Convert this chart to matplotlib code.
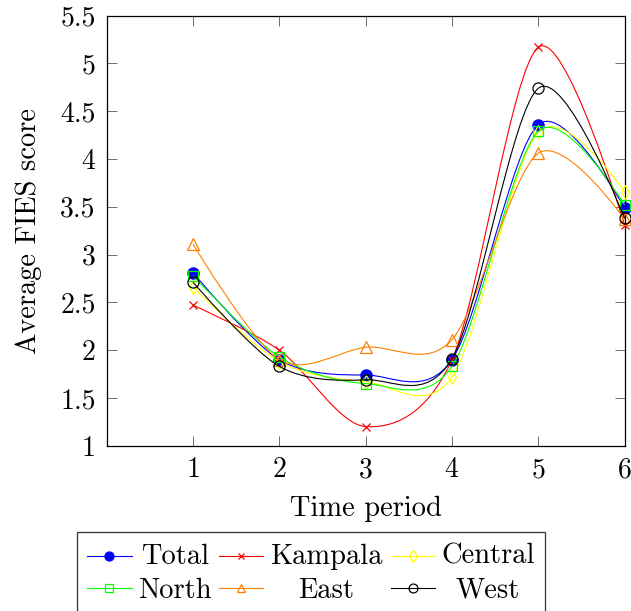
import numpy as np
import matplotlib
matplotlib.use('Agg')
import matplotlib.pyplot as plt
from matplotlib.path import Path
from matplotlib.patches import PathPatch, Rectangle
from matplotlib.lines import Line2D
from matplotlib.ticker import FormatStrFormatter

plt.rcParams['font.family'] = 'serif'
plt.rcParams['font.serif'] = ['cmr10']
plt.rcParams['mathtext.fontset'] = 'cm'
plt.rcParams['axes.formatter.use_mathtext'] = True

# data
periods = [1, 2, 3, 4, 5, 6]
total = [2.81, 1.90, 1.74, 1.90, 4.36, 3.49]
kampala = [2.47, 2.00, 1.20, 1.90, 5.17, 3.31]
central = [2.66, 1.88, 1.67, 1.72, 4.28, 3.66]
north = [2.78, 1.93, 1.65, 1.83, 4.29, 3.52]
east = [3.11, 1.90, 2.03, 2.11, 4.06, 3.37]
west = [2.71, 1.83, 1.69, 1.91, 4.74, 3.38]

series = [
    ('Total', total, 'blue', dict(marker='o', mfc='blue', mec='blue', ms=8)),
    ('Kampala', kampala, 'red', dict(marker='x', mfc='none', mec='red', ms=6, mew=0.9)),
    ('Central', central, '#ffff00', dict(marker='d', mfc='none', mec='#ffff00', ms=7.5, mew=0.9)),
    ('North', north, '#00ff00', dict(marker='s', mfc='none', mec='#00ff00', ms=7.5, mew=0.9)),
    ('East', east, '#ff8000', dict(marker='^', mfc='none', mec='#ff8000', ms=8, mew=0.9)),
    ('West', west, 'black', dict(marker='o', mfc='none', mec='black', ms=8, mew=0.9)),
]


def smooth_path(xs, ys, tension=0.2775 * 0.55):
    # pgf style "smooth" curve through the points
    p = np.column_stack([xs, ys]).astype(float)
    n = len(p)
    verts = [p[0]]
    codes = [Path.MOVETO]
    for i in range(n - 1):
        prev = p[i - 1] if i > 0 else p[i]
        nxt = p[i + 2] if i + 2 < n else p[i + 1]
        c1 = p[i] + tension * (p[i + 1] - prev) if i > 0 else p[i]
        c2 = p[i + 1] - tension * (nxt - p[i]) if i + 2 < n else p[i + 1]
        verts += [c1, c2, p[i + 1]]
        codes += [Path.CURVE4] * 3
    return Path(verts, codes)


fig = plt.figure(figsize=(6.31, 6.11), dpi=100)
ax = fig.add_axes([106.7 / 631, 1 - 445.7 / 611, 517.9 / 631, 430 / 611])

for i, (name, vals, col, mk) in enumerate(series):
    ax.add_patch(PathPatch(smooth_path(periods, vals), fill=False,
                           edgecolor=col, lw=0.8, zorder=2 + i))
    ax.plot(periods, vals, ls='none', clip_on=False, zorder=2 + i, **mk)

ax.set_xlim(0, 6)
ax.set_ylim(1, 5.5)
ax.set_xticks(periods)
ax.set_yticks(np.arange(1, 5.51, 0.5))
ax.yaxis.set_major_formatter(FormatStrFormatter('%g'))
ax.tick_params(direction='in', length=7.5, width=0.6, color='#555555',
               labelsize=20, top=True, right=True, pad=8)
for s in ax.spines.values():
    s.set_linewidth(0.9)
ax.set_xlabel('Time period', fontsize=20.5, labelpad=9)
ax.set_ylabel('Average FIES score', fontsize=20.5, labelpad=13)

# legend below the axes, drawn in pixel coordinates
lax = fig.add_axes([0, 0, 1, 1], zorder=20)
lax.set_xlim(0, 631)
lax.set_ylim(611, 0)
lax.axis('off')
lax.add_patch(Rectangle((77.3, 532.3), 467.7, 120, fill=False, lw=0.9,
                        edgecolor='#333333', clip_on=False))
line_x = [(86.7, 131.7), (219, 263), (390.7, 435)]
text_cx = [175, 326.5, 488]
row_y = [555.7, 588.3]
row_base = [564, 597.5]
for i, (name, vals, col, mk) in enumerate(series):
    r, c = divmod(i, 3)
    x0, x1 = line_x[c]
    lax.add_line(Line2D([x0, x1], [row_y[r], row_y[r]], color=col, lw=0.8))
    lax.add_line(Line2D([(x0 + x1) / 2], [row_y[r]], ls='none',
                        **dict(mk, ms=mk['ms'] * 0.8)))
    lax.text(text_cx[c], row_base[r], name, fontsize=20.5, ha='center',
             va='baseline')

fig.savefig('out.png', dpi=100)
